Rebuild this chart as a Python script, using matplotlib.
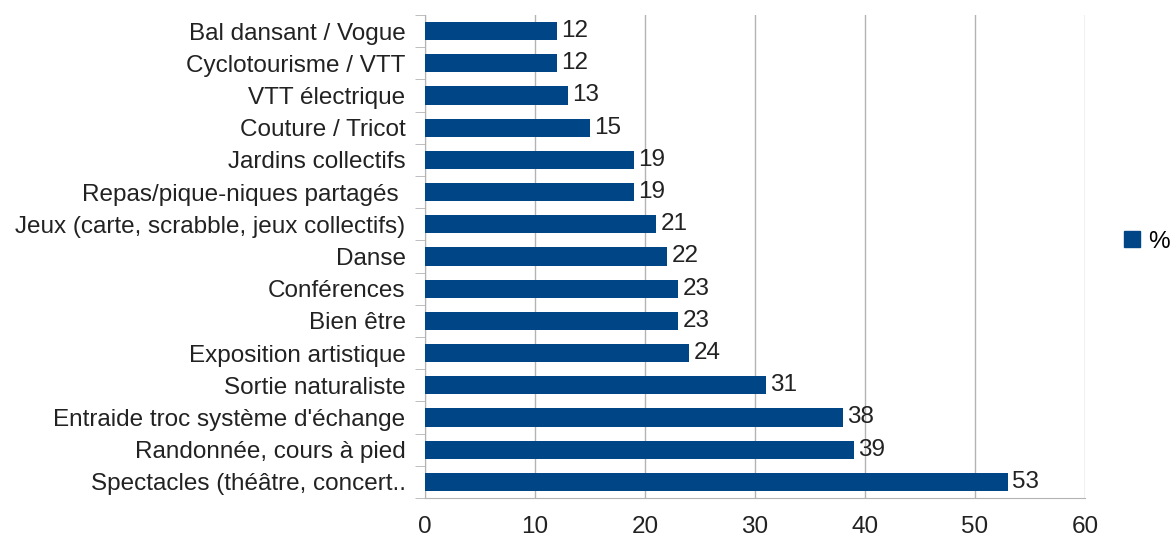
import matplotlib.pyplot as plt
from matplotlib.patches import Patch

# Data (top to bottom as shown)
categories = [
    'Bal dansant / Vogue',
    'Cyclotourisme / VTT',
    'VTT électrique',
    'Couture / Tricot',
    'Jardins collectifs',
    'Repas/pique-niques partagés ',
    'Jeux (carte, scrabble, jeux collectifs)',
    'Danse',
    'Conférences',
    'Bien être',
    'Exposition artistique',
    'Sortie naturaliste',
    "Entraide troc système d'échange",
    'Randonnée, cours à pied',
    'Spectacles (théâtre, concert..',
]
values = [12, 12, 13, 15, 19, 19, 21, 22, 23, 23, 24, 31, 38, 39, 53]
x_ticks = [0, 10, 20, 30, 40, 50, 60]

BAR_COLOR = '#004586'
GRID_COLOR = '#b3b3b3'
FS = 17.5

plt.rcParams['font.family'] = ['Liberation Sans', 'DejaVu Sans']

fig = plt.figure(figsize=(11.76, 5.41), dpi=100)
ax = fig.add_axes([0.3614, 0.0795, 0.5612, 0.8928])

n = len(categories)
pos = list(range(n))[::-1]
ax.barh(pos, values, height=0.56, color=BAR_COLOR, zorder=3)

for p, v in zip(pos, values):
    ax.text(v + 0.4, p, str(v), va='center', ha='left', fontsize=FS, color='#222222')

ax.set_xlim(0, 60)
ax.set_ylim(-0.5, n - 0.5)
ax.set_xticks(x_ticks)
ax.tick_params(axis='x', length=0, labelsize=FS, pad=13, colors='#222222')
ax.xaxis.grid(True, color=GRID_COLOR, linewidth=1)
ax.set_axisbelow(True)

ax.set_yticks(pos)
ax.set_yticklabels(categories)
ax.tick_params(axis='y', length=0, labelsize=FS, pad=14, colors='#222222')
# minor ticks at category boundaries
ax.set_yticks([i - 0.5 for i in range(n + 1)], minor=True)
ax.tick_params(axis='y', which='minor', length=7, color=GRID_COLOR)

for s in ['top', 'right']:
    ax.spines[s].set_visible(False)
ax.spines['left'].set_color(GRID_COLOR)
ax.spines['bottom'].set_color(GRID_COLOR)

fig.legend(handles=[Patch(color=BAR_COLOR, label='%')], loc='center left',
           bbox_to_anchor=(0.956, 0.553), frameon=False, fontsize=FS,
           handlelength=0.65, handleheight=0.65, handletextpad=0.35,
           borderpad=0, borderaxespad=0)

fig.savefig('out.png', dpi=100)
